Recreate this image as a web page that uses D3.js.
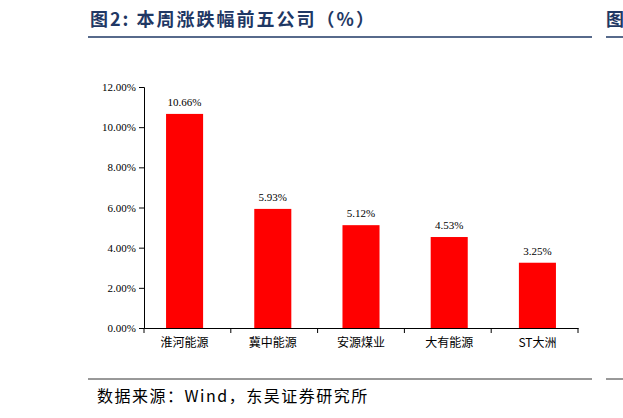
<!DOCTYPE html>
<html><head><meta charset="utf-8">
<script src="https://cdn.jsdelivr.net/npm/d3@7"></script>
<style>body{margin:0;background:#fff}</style></head>
<body><svg id="c" width="623" height="418"></svg>
<script>
const categories=["淮河能源","冀中能源","安源煤业","大有能源","ST大洲"];
const values=[10.66,5.93,5.12,4.53,3.25];
const yTicks=[0,2,4,6,8,10,12];
const svg=d3.select("#c");
const cjk="'Noto Sans CJK SC',sans-serif", serif="'Liberation Serif','Times New Roman',serif";
svg.append("text").attr("x",90).attr("y",26).attr("font-family",cjk).attr("font-weight","bold").attr("font-size",18).attr("letter-spacing",2).attr("fill","#1f3864").text("图2:  本周涨跌幅前五公司（%）");
svg.append("text").attr("x",606).attr("y",26).attr("font-family",cjk).attr("font-weight","bold").attr("font-size",18).attr("fill","#1f3864").text("图");
svg.append("line").attr("x1",88).attr("x2",592).attr("y1",37).attr("y2",37).attr("stroke","#1f3864").attr("stroke-width",1.5);
svg.append("line").attr("x1",606).attr("x2",623).attr("y1",37).attr("y2",37).attr("stroke","#1f3864").attr("stroke-width",1.5);
svg.append("line").attr("x1",88).attr("x2",592).attr("y1",379).attr("y2",379).attr("stroke","#333").attr("stroke-width",1);
svg.append("line").attr("x1",606).attr("x2",623).attr("y1",379).attr("y2",379).attr("stroke","#333").attr("stroke-width",1);
svg.append("text").attr("x",97).attr("y",402).attr("font-family",cjk).attr("font-size",16).attr("letter-spacing",1.5).attr("fill","#000").text("数据来源：Wind，东吴证券研究所");
const x=d3.scaleBand().domain(categories).range([144,578]).paddingInner(0.58).paddingOuter(0.25);
const y=d3.scaleLinear().domain([0,12]).range([328,87]);
const g=svg.append("g");
g.selectAll("rect").data(values).join("rect").attr("x",(d,i)=>x(categories[i])).attr("width",x.bandwidth()).attr("y",d=>y(d)).attr("height",d=>y(0)-y(d)).attr("fill","#ff0000");
g.selectAll(".v").data(values).join("text").attr("x",(d,i)=>x(categories[i])+x.bandwidth()/2).attr("y",d=>y(d)-8).attr("text-anchor","middle").attr("font-family",serif).attr("font-size",11).text(d=>d.toFixed(2)+"%");
const ya=svg.append("g").attr("transform","translate(144,0)").call(d3.axisLeft(y).tickValues(yTicks).tickSize(5).tickFormat(d=>d.toFixed(2)+"%"));
ya.selectAll("text").attr("font-family",serif).attr("font-size",11).attr("fill","#000");
ya.selectAll("line,path").attr("stroke","#000");
const xa=svg.append("g").attr("transform","translate(0,328)").call(d3.axisBottom(x).tickSize(0).tickPadding(10));
xa.select(".domain").attr("stroke","#000");
xa.selectAll("text").attr("font-family",cjk).attr("font-size",12).attr("fill","#000");
d3.range(6).forEach(i=>{const bx=144+i*(434/5);svg.append("line").attr("x1",bx).attr("x2",bx).attr("y1",328).attr("y2",333).attr("stroke","#000");});
</script></body></html>
